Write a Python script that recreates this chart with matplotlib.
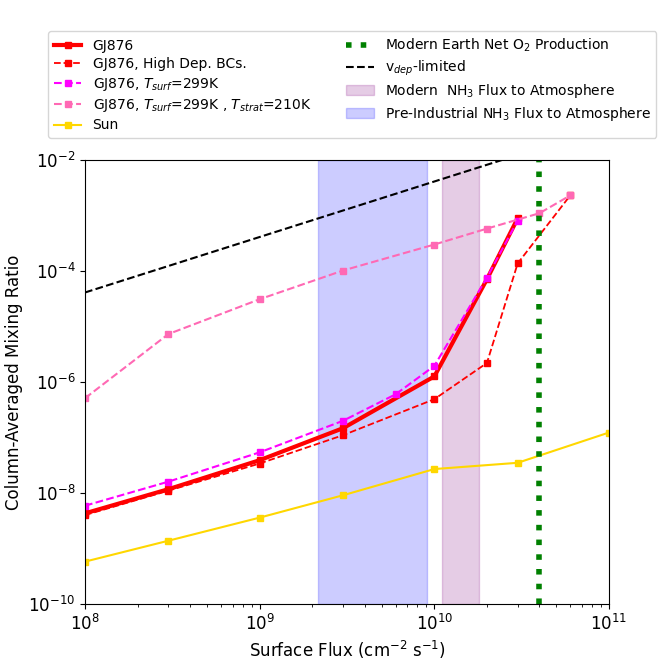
import matplotlib
matplotlib.use("Agg")
import matplotlib.pyplot as plt
import numpy as np
from matplotlib.ticker import NullLocator

# Data
flux_gj = [1e8, 3e8, 1e9, 3e9, 1e10, 2e10, 3e10]
mr_gj = [4.3e-9, 1.17e-8, 3.9e-8, 1.47e-7, 1.26e-6, 7.1e-5, 8.9e-4]

flux_hd = [1e8, 3e8, 1e9, 3e9, 1e10, 2e10, 3e10, 6e10]
mr_hd = [4.0e-9, 1.1e-8, 3.4e-8, 1.1e-7, 4.9e-7, 2.2e-6, 1.37e-4, 2.3e-3]

flux_ts = [1e8, 3e8, 1e9, 3e9, 6e9, 1e10, 2e10, 3e10]
mr_ts = [5.9e-9, 1.6e-8, 5.4e-8, 2.0e-7, 6.0e-7, 1.95e-6, 7.6e-5, 8.1e-4]

flux_tst = [1e8, 3e8, 1e9, 3e9, 1e10, 2e10, 4e10, 6e10]
mr_tst = [5.1e-7, 7.3e-6, 3.1e-5, 1.02e-4, 3.0e-4, 5.8e-4, 1.1e-3, 2.3e-3]

flux_sun = [1e8, 3e8, 1e9, 3e9, 1e10, 3e10, 1e11]
mr_sun = [5.8e-10, 1.38e-9, 3.6e-9, 9.1e-9, 2.7e-8, 3.5e-8, 1.23e-7]

flux_vdep = [1e8, 1e11]
mr_vdep = [4.1e-5, 4.1e-2]

o2_flux = 4e10
modern_nh3 = (1.1e10, 1.8e10)
preind_nh3 = (2.16e9, 9.1e9)

fig = plt.figure(figsize=(6.64, 6.64), dpi=100)
ax = fig.add_axes([85/664, 1 - 604/664, 524/664, 444/664])

ms = 5
ax.plot(flux_gj, mr_gj, '-', color='red', lw=3, marker='s', ms=ms, label='GJ876')
ax.plot(flux_hd, mr_hd, '--', color='red', lw=1.3, marker='s', ms=ms, label='GJ876, High Dep. BCs.')
ax.plot(flux_ts, mr_ts, '--', color='magenta', lw=1.5, marker='s', ms=ms, label='GJ876, $T_{surf}$=299K')
ax.plot(flux_tst, mr_tst, '--', color='hotpink', lw=1.5, marker='s', ms=ms,
        label='GJ876, $T_{surf}$=299K , $T_{strat}$=210K')
ax.plot(flux_sun, mr_sun, '-', color='gold', lw=1.5, marker='s', ms=ms, label='Sun')
ax.axvline(o2_flux, color='green', ls=':', lw=4, label='Modern Earth Net O$_2$ Production')
ax.plot(flux_vdep, mr_vdep, '--', color='black', lw=1.5, label='v$_{dep}$-limited')
ax.axvspan(*modern_nh3, color='purple', alpha=0.2, label='Modern  NH$_3$ Flux to Atmosphere')
ax.axvspan(*preind_nh3, color='blue', alpha=0.2, label='Pre-Industrial NH$_3$ Flux to Atmosphere')

ax.set_xscale('log')
ax.set_yscale('log')
ax.set_xlim(1e8, 1e11)
ax.set_ylim(1e-10, 1e-2)
ax.set_yticks([1e-10, 1e-8, 1e-6, 1e-4, 1e-2])
ax.yaxis.set_minor_locator(NullLocator())
ax.tick_params(axis='both', which='major', labelsize=12)
ax.set_xlabel('Surface Flux (cm$^{-2}$ s$^{-1}$)', fontsize=12)
ax.set_ylabel('Column-Averaged Mixing Ratio', fontsize=12)

ax.legend(loc='lower center', bbox_to_anchor=(0.51, 1.034), ncol=2, fontsize=10,
          columnspacing=2.5, labelspacing=0.32)

fig.savefig('out.png', dpi=100)
